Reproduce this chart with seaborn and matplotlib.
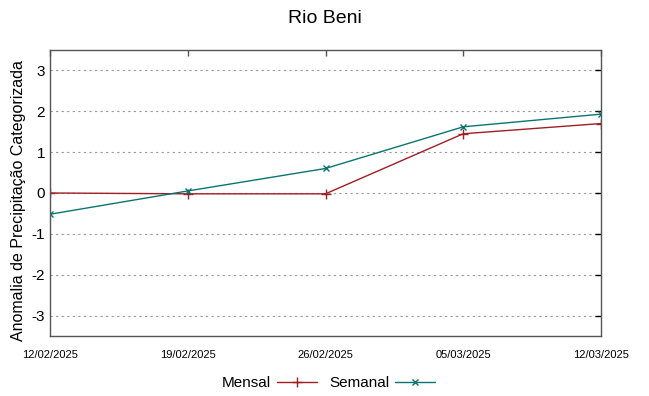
import pandas as pd
import matplotlib
matplotlib.use("Agg")
import matplotlib.pyplot as plt
import seaborn as sns

# dados
datas = ["2025-02-12", "2025-02-19", "2025-02-26", "2025-03-05", "2025-03-12"]
rotulos = ["12/02/2025", "19/02/2025", "26/02/2025", "05/03/2025", "12/03/2025"]
mensal = [0.0, -0.02, -0.02, 1.45, 1.70]
semanal = [-0.52, 0.05, 0.60, 1.62, 1.93]

df = pd.DataFrame({"Data": pd.to_datetime(datas), "Mensal": mensal, "Semanal": semanal})

sns.set_style("white")
plt.rcParams["font.family"] = ["Liberation Sans", "DejaVu Sans"]
plt.rcParams["axes.unicode_minus"] = False
plt.rcParams["text.color"] = "black"
plt.rcParams["xtick.color"] = "black"
plt.rcParams["ytick.color"] = "black"
plt.rcParams["axes.labelcolor"] = "black"

fig = plt.figure(figsize=(6.49, 3.96), dpi=100)
ax = fig.add_axes([50 / 649, 60 / 396, 551 / 649, 286 / 396])

cor_m = "#a01e24"
cor_s = "#0a7570"
sns.lineplot(data=df, x="Data", y="Mensal", ax=ax, color=cor_m, marker="+",
             markersize=7, markeredgewidth=1, markeredgecolor=cor_m, linewidth=1, label="Mensal")
sns.lineplot(data=df, x="Data", y="Semanal", ax=ax, color=cor_s, marker="x",
             markersize=5, markeredgewidth=1, markeredgecolor=cor_s, linewidth=1, label="Semanal")

ax.set_xlim(df["Data"].iloc[0], df["Data"].iloc[-1])
ax.set_ylim(-3.5, 3.5)
ax.set_yticks([-3, -2, -1, 0, 1, 2, 3])
ax.set_xticks(df["Data"])
ax.set_xticklabels(rotulos, fontsize=8)
ax.tick_params(axis="y", labelsize=11, direction="in", length=4, right=True, width=1)
ax.tick_params(axis="x", direction="in", length=4, top=True, width=1, color="#555555", pad=10)
ax.yaxis.grid(True, linestyle=(0, (2, 3)), color="#999999", linewidth=0.8)
ax.xaxis.grid(False)
for s in ax.spines.values():
    s.set_color("#555555")
    s.set_linewidth(1)

ax.set_xlabel("")
ax.set_ylabel("Anomalia de Precipitação Categorizada", fontsize=11.5)
ax.yaxis.set_label_coords(-0.043, 0.475)
fig.suptitle("Rio Beni", fontsize=14, y=0.975)

ax.legend(loc="center", bbox_to_anchor=(0.505, -0.165), ncol=2, frameon=False,
          markerfirst=False, fontsize=11, handlelength=2.6, columnspacing=0.8,
          handletextpad=0.4)

fig.savefig("out.png", dpi=100)
